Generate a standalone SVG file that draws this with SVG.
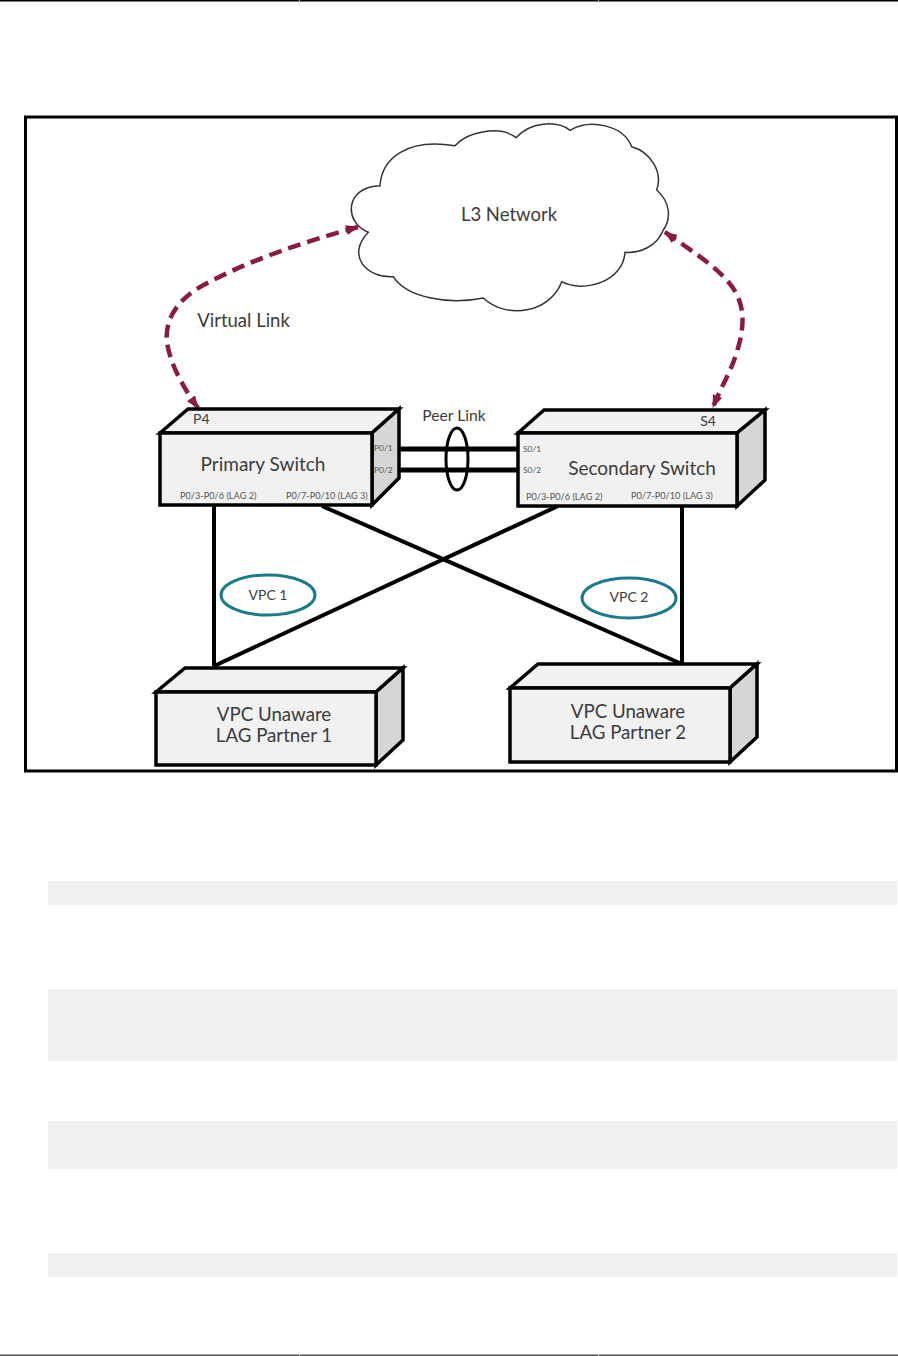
<svg xmlns="http://www.w3.org/2000/svg" width="898" height="1356" viewBox="0 0 898 1356">
<style>
text{font-family:Lato,"Liberation Sans",sans-serif;fill:#3c3c3c}
.t{font-size:19px}.u{font-size:18.7px}.s{font-size:9.2px;fill:#555}
.p{font-size:8.4px;fill:#555}
.box{stroke:#000;stroke-width:3.5;stroke-linejoin:miter}
.front{fill:#f1f1f1}.top{fill:#f1f1f1}.side{fill:#d6d6d6}
.wire{stroke:#000;stroke-width:4;fill:none}
.peer{stroke:#000;stroke-width:5;fill:none}
.vlink{stroke:#8c1c3c;stroke-width:4.5;stroke-dasharray:13 7;fill:none;marker-start:url(#ah);marker-end:url(#ah)}
.vpc{fill:#fff;stroke:#1b7a8c;stroke-width:3}
.band{fill:#f0f0f0}
</style>
<defs>
<marker id="ah" markerUnits="userSpaceOnUse" markerWidth="14" markerHeight="12" refX="12" refY="6" orient="auto-start-reverse"><path d="M0 1L13 6L0 11Z" fill="#8c1c3c"/></marker>
</defs>
<rect width="898" height="1356" fill="#fff"/>
<g id="page-rules">
<rect x="0" y="0" width="898" height="1.5" fill="#000"/>
<rect x="0" y="1354.5" width="898" height="1.5" fill="#555"/>
<rect x="299" y="0" width="1" height="1.5" fill="#aaa"/>
<rect x="598" y="0" width="1" height="1.5" fill="#aaa"/>
<rect x="299" y="1354.5" width="1" height="1.5" fill="#ccc"/>
<rect x="598" y="1354.5" width="1" height="1.5" fill="#ccc"/>
</g>
<g id="code-bands">
<rect class="band" x="48" y="881" width="849" height="24"/>
<rect class="band" x="48" y="989" width="849" height="72"/>
<rect class="band" x="48" y="1121" width="849" height="48"/>
<rect class="band" x="48" y="1253" width="849" height="24"/>
</g>
<rect id="frame" x="25.5" y="117" width="871" height="654" fill="#fff" stroke="#000" stroke-width="3"/>
<g id="cloud">
<path d="M368.3 232.3C344 223 344 186.7 380 185.7C381.7 158.3 406.7 138 455 145.7C466.7 131.7 500 125 516 137.7C530 121.7 556.7 120 570 130.3C590 118.3 623.3 125 631.7 146.7C650 151.7 663.3 171.7 656.7 190C670 201.7 671.7 218.3 663.3 230C656.7 246.7 640 253.3 625 252.3C623.3 281.7 583.3 293.3 561.7 281.7C550 313 506.7 320 483.3 298C450 305 406.7 298.3 393.3 276.7C366 278.3 346 255 368.3 232.3Z" fill="#fff" stroke="#333" stroke-width="1.5"/>
<text x="509" y="221" text-anchor="middle" font-size="18.500">L3 Network</text>
</g>
<g id="connectors">
<path class="wire" d="M214 505V666"/>
<path class="wire" d="M322 506L682 664"/>
<path class="wire" d="M558 506L214 666"/>
<path class="wire" d="M682 506V664"/>
<path class="peer" d="M399 449H518"/>
<path class="peer" d="M399 470H518"/>
<ellipse cx="457" cy="459" rx="11" ry="31" fill="none" stroke="#000" stroke-width="3"/>
<path class="vlink" d="M358 227C300 243 243 262 195 290C172 306 165 325 167 342C170 365 185 390 198 408"/>
<path class="vlink" d="M665 232C690 250 715 265 730 284C745 302 745 325 738 348C732 370 722 385 713 407"/>
</g>
<text id="peer-link-label" x="454" y="421" text-anchor="middle" font-size="15.700">Peer Link</text>
<text id="virtual-link-label" x="243.500" y="327" text-anchor="middle" font-size="18.500">Virtual Link</text>
<g id="primary-switch">
<path class="box top" d="M160 433L188 409H399L372 433Z"/>
<path class="box side" d="M372 433L399 409V478L372 505Z"/>
<rect class="box front" x="160" y="433" width="212" height="72"/>
<text x="263" y="471" text-anchor="middle" class="t">Primary Switch</text>
<text x="193" y="424" font-size="14">P4</text>
<text class="p" x="374" y="451">P0/1</text>
<text class="p" x="374" y="473">P0/2</text>
<text class="s" x="180" y="499">P0/3-P0/6 (LAG 2)</text>
<text class="s" x="286" y="499">P0/7-P0/10 (LAG 3)</text>
</g>
<g id="secondary-switch">
<path class="box top" d="M518 433L544 410H765L737 433Z"/>
<path class="box side" d="M737 433L765 410V480L737 506Z"/>
<rect class="box front" x="518" y="433" width="219" height="73"/>
<text x="642" y="475" text-anchor="middle" class="t">Secondary Switch</text>
<text x="708" y="426" text-anchor="middle" font-size="14">S4</text>
<text class="p" x="523" y="452">S0/1</text>
<text class="p" x="523" y="473">S0/2</text>
<text class="s" x="526" y="500">P0/3-P0/6 (LAG 2)</text>
<text class="s" x="631" y="499">P0/7-P0/10 (LAG 3)</text>
</g>
<g id="vpc-1">
<ellipse class="vpc" cx="268" cy="595" rx="47" ry="20"/>
<text x="268" y="600" text-anchor="middle" font-size="14">VPC 1</text>
</g>
<g id="vpc-2">
<ellipse class="vpc" cx="629" cy="598" rx="47" ry="20"/>
<text x="629" y="602" text-anchor="middle" font-size="14">VPC 2</text>
</g>
<g id="lag-partner-1">
<path class="box top" d="M156 692L185 668H403L376 692Z"/>
<path class="box side" d="M376 692L403 668V740L376 765Z"/>
<rect class="box front" x="156" y="692" width="220" height="73"/>
<text x="274" y="721" text-anchor="middle" class="u">VPC Unaware</text>
<text x="274" y="742" text-anchor="middle" class="u">LAG Partner 1</text>
</g>
<g id="lag-partner-2">
<path class="box top" d="M510 688L538 664H757L730 688Z"/>
<path class="box side" d="M730 688L757 664V737L730 762Z"/>
<rect class="box front" x="510" y="688" width="220" height="74"/>
<text x="628" y="718" text-anchor="middle" class="u">VPC Unaware</text>
<text x="628" y="739" text-anchor="middle" class="u">LAG Partner 2</text>
</g>
</svg>
